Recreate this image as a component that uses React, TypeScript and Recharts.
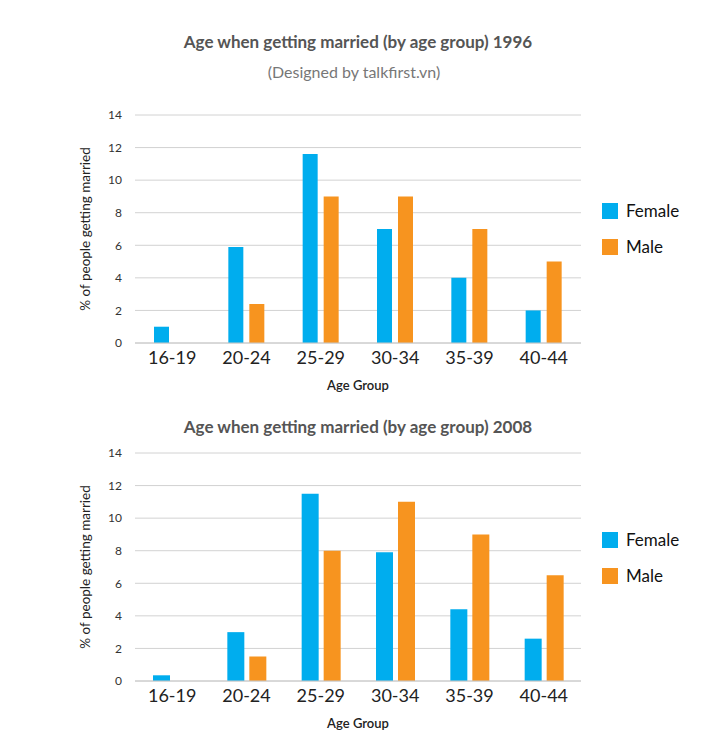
import { BarChart, Bar, XAxis, YAxis, CartesianGrid, Label } from 'recharts'

const categories = ['16-19', '20-24', '25-29', '30-34', '35-39', '40-44']
const female1996 = [1, 5.9, 11.6, 7, 4, 2]
const male1996 = [null, 2.4, 9, 9, 7, 5]
const female2008 = [0.35, 3, 11.5, 7.9, 4.4, 2.6]
const male2008 = [null, 1.5, 8, 11, 9, 6.5]
const yTicks = [0, 2, 4, 6, 8, 10, 12, 14]

const series = [
  { key: 'female', name: 'Female', color: '#00ADEE' },
  { key: 'male', name: 'Male', color: '#F7941F' },
]

const FONT = 'Lato, "Open Sans", sans-serif'

type PanelProps = {
  top: number
  female: (number | null)[]
  male: (number | null)[]
  barSize: number
  barGap: number
  legendTop: number
}

function Panel({ top, female, male, barSize, barGap, legendTop }: PanelProps) {
  const data = categories.map((c, i) => ({ name: c, female: female[i], male: male[i] }))
  return (
    <div style={{ position: 'absolute', left: 0, top, width: 703, height: 402 }}>
      <BarChart
        width={703}
        height={402}
        data={data}
        barSize={barSize}
        barGap={barGap}
        margin={{ top: 115, right: 122, bottom: 12, left: 75 }}
        style={{ fontFamily: FONT }}
      >
        <CartesianGrid vertical={false} stroke="#d2d2d2" />
        <XAxis
          dataKey="name"
          height={47}
          axisLine={{ stroke: '#c8c8c8' }}
          tickLine={false}
          tick={{ fill: '#222', fontSize: 18 }}
        >
          <Label value="Age Group" position="insideBottom" offset={0} fill="#222" fontSize={13} fontWeight={600} />
        </XAxis>
        <YAxis
          width={60}
          domain={[0, 14]}
          ticks={yTicks}
          axisLine={false}
          tickLine={false}
          tickMargin={7}
          tick={{ fill: '#333', fontSize: 12 }}
        >
          <Label
            value="% of people getting married"
            angle={-90}
            position="center"
            dx={-20}
            fill="#222"
            fontSize={13.5}
          />
        </YAxis>
        {series.map((s) => (
          <Bar key={s.key} dataKey={s.key} name={s.name} fill={s.color} isAnimationActive={false} />
        ))}
      </BarChart>
      <div style={{ position: 'absolute', left: 602, top: legendTop - top }}>
        {series.map((s, i) => (
          <div
            key={s.key}
            style={{ position: 'absolute', left: 0, top: i * 36, display: 'flex', alignItems: 'center', whiteSpace: 'nowrap' }}
          >
            <span style={{ width: 16, height: 16, background: s.color, display: 'inline-block' }} />
            <span style={{ marginLeft: 8, fontFamily: FONT, fontSize: 17, color: '#111', lineHeight: '16px' }}>{s.name}</span>
          </div>
        ))}
      </div>
    </div>
  )
}

const titleStyle = {
  position: 'absolute' as const,
  left: 0,
  width: 716,
  textAlign: 'center' as const,
  fontFamily: FONT,
  fontWeight: 700,
  fontSize: 17,
  color: '#555',
}

export default function App() {
  return (
    <div style={{ position: 'absolute', left: 0, top: 0, width: 703, height: 747, background: '#fff', overflow: 'hidden' }}>
      <Panel top={0} female={female1996} male={male1996} barSize={15} barGap={6} legendTop={203} />
      <Panel top={338} female={female2008} male={male2008} barSize={17} barGap={5} legendTop={532} />
      <div style={{ ...titleStyle, top: 31 }}>Age when getting married (by age group) 1996</div>
      <div style={{ ...titleStyle, top: 62, fontWeight: 400, fontSize: 16, color: '#777', width: 708 }}>
        (Designed by talkfirst.vn)
      </div>
      <div style={{ ...titleStyle, top: 416 }}>Age when getting married (by age group) 2008</div>
    </div>
  )
}
